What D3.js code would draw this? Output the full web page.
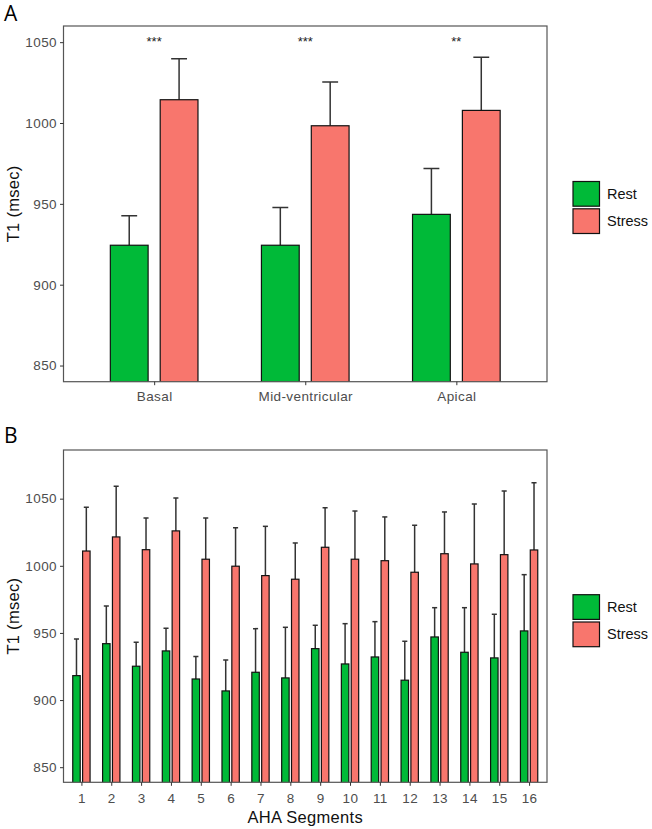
<!DOCTYPE html>
<html><head><meta charset="utf-8">
<script src="https://cdn.jsdelivr.net/npm/d3@7"></script>
<style>body{margin:0;background:#fff}svg{display:block}</style>
</head><body>
<script>
// ---- data ----
const regions = ["Basal", "Mid-ventricular", "Apical"];
const regionRest = [924.4, 924.4, 943.5];
const regionRestUpper = [942.6, 947.8, 971.8];
const regionStress = [1014.4, 998.3, 1007.8];
const regionStressUpper = [1039.8, 1025.4, 1040.6];
const regionSig = ["***", "***", "**"];

const segments = ["1","2","3","4","5","6","7","8","9","10","11","12","13","14","15","16"];
const segRest = [918.2, 942.0, 925.2, 936.6, 915.7, 906.8, 920.7, 916.5, 938.3, 926.9, 932.1, 914.8, 947.0, 935.6, 931.4, 951.5];
const segRestUpper = [945.5, 970.1, 943.0, 953.5, 932.4, 929.9, 953.2, 954.2, 955.7, 956.9, 958.4, 943.8, 968.8, 968.8, 963.9, 993.4];
const segStress = [1011.0, 1021.5, 1012.0, 1026.0, 1004.9, 999.7, 992.7, 990.0, 1013.8, 1004.9, 1003.8, 995.2, 1009.0, 1001.4, 1008.3, 1011.8];
const segStressUpper = [1043.6, 1059.2, 1035.6, 1050.5, 1035.6, 1028.4, 1029.4, 1017.0, 1043.3, 1040.8, 1036.4, 1030.2, 1040.1, 1046.0, 1055.7, 1061.9];

const yTicks = [850, 900, 950, 1000, 1050];
const groups = ["Rest", "Stress"];
const colors = {Rest: "#00BA38", Stress: "#F8766D"};

// ---- drawing ----
const svg = d3.select("body").append("svg").attr("width", 652).attr("height", 829);
svg.append("rect").attr("width", 652).attr("height", 829).attr("fill", "#fff");
const FONT = "Liberation Sans, Arial, sans-serif";

function panel(opts) {
  const {cats, rest, restU, stress, stressU, left, right, top, bottom, ydom, capFrac, xTitle, sig, letter, letterY, legendY} = opts;
  const g = svg.append("g");
  const x = d3.scalePoint().domain(cats).range([left, right]).padding(0.6);
  const step = x.step();
  const y = d3.scaleLinear().domain(ydom).range([bottom, top]);
  const bw = 0.25 * step, off = 0.165 * step, cap = capFrac * step;

  const data = [];
  cats.forEach((c, i) => {
    data.push({c, grp: "Rest", v: rest[i], u: restU[i], dx: -off});
    data.push({c, grp: "Stress", v: stress[i], u: stressU[i], dx: off});
  });

  const clipId = "clip" + letter;
  svg.append("clipPath").attr("id", clipId).append("rect")
    .attr("x", left).attr("y", top).attr("width", right - left).attr("height", bottom - top);
  const inner = g.append("g").attr("clip-path", `url(#${clipId})`);

  // error bars (upper only)
  const eb = inner.selectAll("g.eb").data(data).join("g").attr("class", "eb");
  eb.append("line")
    .attr("x1", d => x(d.c) + d.dx).attr("x2", d => x(d.c) + d.dx)
    .attr("y1", d => y(d.v)).attr("y2", d => y(d.u))
    .attr("stroke", "#333").attr("stroke-width", 1.5);
  eb.append("line")
    .attr("x1", d => x(d.c) + d.dx - cap / 2).attr("x2", d => x(d.c) + d.dx + cap / 2)
    .attr("y1", d => y(d.u)).attr("y2", d => y(d.u))
    .attr("stroke", "#333").attr("stroke-width", 1.5);

  // bars
  inner.selectAll("rect.bar").data(data).join("rect").attr("class", "bar")
    .attr("x", d => x(d.c) + d.dx - bw / 2).attr("width", bw)
    .attr("y", d => y(d.v)).attr("height", d => bottom + 2 - y(d.v))
    .attr("fill", d => colors[d.grp]).attr("stroke", "#111").attr("stroke-width", 1.2);

  // frame
  g.append("rect").attr("x", left).attr("y", top).attr("width", right - left).attr("height", bottom - top)
    .attr("fill", "none").attr("stroke", "#555").attr("stroke-width", 1.2);

  // axes
  const ya = d3.axisLeft(y).tickValues(yTicks).tickFormat(d3.format("d")).tickSize(3.5).tickPadding(3);
  const yg = g.append("g").attr("transform", `translate(${left},0)`).call(ya);
  yg.select(".domain").remove();
  yg.selectAll("line").attr("stroke", "#333");
  yg.selectAll("text").attr("fill", "#4d4d4d").attr("font-family", FONT).attr("font-size", 13.5).style("letter-spacing", "0.4px");

  const xa = d3.axisBottom(x).tickSize(3.5).tickPadding(letter === "A" ? 6 : 8);
  const xg = g.append("g").attr("transform", `translate(0,${bottom})`).call(xa);
  xg.select(".domain").remove();
  xg.selectAll("line").attr("stroke", "#333");
  xg.selectAll("text").attr("fill", "#4d4d4d").attr("font-family", FONT).attr("font-size", 13.5).style("letter-spacing", "0.4px");

  // y title
  g.append("text").attr("transform", `translate(19,${(top + bottom) / 2}) rotate(-90)`)
    .attr("text-anchor", "middle").attr("font-family", FONT).attr("font-size", 16.5).style("letter-spacing", "0.3px")
    .attr("fill", "#111").text("T1 (msec)");

  if (xTitle) {
    g.append("text").attr("x", (left + right) / 2).attr("y", 823)
      .attr("text-anchor", "middle").attr("font-family", FONT).attr("font-size", 16.5).style("letter-spacing", "0.3px")
      .attr("fill", "#111").text(xTitle);
  }

  if (sig) {
    g.selectAll("text.sig").data(cats).join("text").attr("class", "sig")
      .attr("x", (d) => x(d)).attr("y", y(1050) + 4)
      .attr("text-anchor", "middle").attr("font-family", FONT).attr("font-size", 13)
      .attr("fill", "#222").text((d, i) => sig[i]);
  }

  // panel letter
  svg.append("text").attr("x", 4).attr("y", letterY).attr("font-family", "Open Sans, DejaVu Sans, sans-serif")
    .attr("font-size", 21).attr("fill", "#000").text(letter);

  // legend
  const lg = g.append("g");
  groups.forEach((k, i) => {
    lg.append("rect").attr("x", 573).attr("y", legendY + i * 27.3).attr("width", 26.5).attr("height", 24.7)
      .attr("fill", colors[k]).attr("stroke", "#111").attr("stroke-width", 1.2);
    lg.append("text").attr("x", 607).attr("y", legendY + i * 27.3 + 12.4).attr("dy", "0.35em")
      .attr("font-family", FONT).attr("font-size", 14.5).attr("fill", "#111").text(k);
  });
}

panel({cats: regions, rest: regionRest, restU: regionRestUpper, stress: regionStress, stressU: regionStressUpper,
  left: 63.5, right: 547, top: 26, bottom: 381.7, ydom: [840, 1060], capFrac: 0.105,
  sig: regionSig, letter: "A", letterY: 21, legendY: 181.5});

panel({cats: segments, rest: segRest, restU: segRestUpper, stress: segStress, stressU: segStressUpper,
  left: 63.5, right: 547, top: 450, bottom: 782.3, ydom: [838.75, 1086.25], capFrac: 0.17,
  xTitle: "AHA Segments", letter: "B", letterY: 443, legendY: 594.7});
</script>
</body></html>
